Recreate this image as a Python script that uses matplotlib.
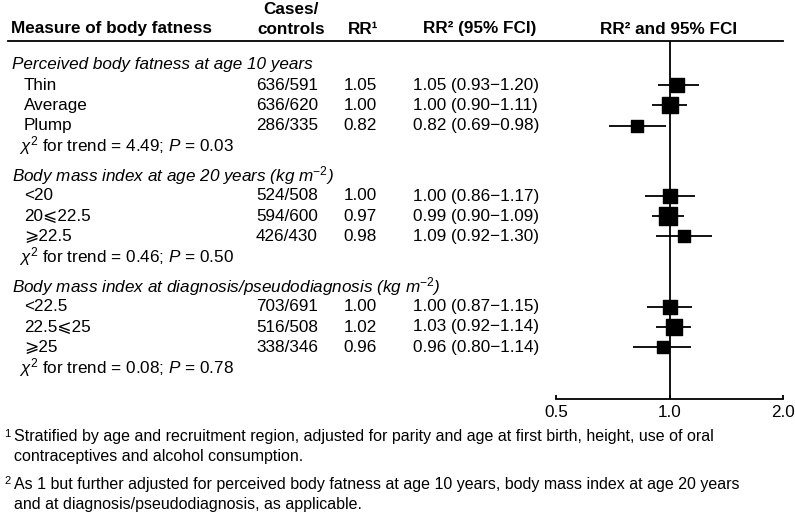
import numpy as np
import matplotlib
matplotlib.use("Agg")
import matplotlib.pyplot as plt
from matplotlib import transforms
from matplotlib.lines import Line2D

plt.rcParams['font.family'] = ['Liberation Sans', 'DejaVu Sans']
plt.rcParams['mathtext.fontset'] = 'custom'
plt.rcParams['mathtext.rm'] = 'Liberation Sans'
plt.rcParams['mathtext.it'] = 'Liberation Sans:italic'
plt.rcParams['mathtext.bf'] = 'Liberation Sans:bold'

# data
sections = ['Perceived body fatness at age 10 years',
            'Body mass index at age 20 years (kg m$^{-2}$)',
            'Body mass index at diagnosis/pseudodiagnosis (kg m$^{-2}$)']
categories = [['Thin', 'Average', 'Plump'],
              ['<20', '20\u2a7d22.5', '\u2a7e22.5'],
              ['<22.5', '22.5\u2a7d25', '\u2a7e25']]
cases = [['636/591', '636/620', '286/335'],
         ['524/508', '594/600', '426/430'],
         ['703/691', '516/508', '338/346']]
rr1 = [[1.05, 1.00, 0.82],
       [1.00, 0.97, 0.98],
       [1.00, 1.02, 0.96]]
rr2 = [[1.05, 1.00, 0.82],
       [1.00, 0.99, 1.09],
       [1.00, 1.03, 0.96]]
ci_lo = [[0.93, 0.90, 0.69],
         [0.86, 0.90, 0.92],
         [0.87, 0.92, 0.80]]
ci_hi = [[1.20, 1.11, 0.98],
         [1.17, 1.09, 1.30],
         [1.15, 1.14, 1.14]]
trend = [('4.49', '0.03'), ('0.46', '0.50'), ('0.08', '0.78')]

W, H = 795, 517
fig = plt.figure(figsize=(W / 100, H / 100), dpi=100)
fs = 12.3

def px(x):
    return x / W

# forest panel (y measured in pixels from top)
top, bot = 41, 399
ax = fig.add_axes([px(556), 1 - bot / H, px(227), (bot - top) / H])
ax.set_xscale('log')
ax.set_xlim(0.5, 2.0)
ax.set_ylim(bot, top)
for s in ['top', 'left', 'right']:
    ax.spines[s].set_visible(False)
ax.spines['bottom'].set_linewidth(1.3)
ax.set_yticks([])
ax.set_xticks([0.5, 1.0, 2.0])
ax.set_xticklabels(['0.5', '1.0', '2.0'])
ax.xaxis.set_minor_locator(matplotlib.ticker.NullLocator())
ax.tick_params(axis='x', direction='in', length=3, width=1.3, pad=4, labelsize=fs)
ax.axvline(1.0, color='black', lw=1.3)

tr = transforms.blended_transform_factory(fig.transFigure, ax.transData)

# header
fig.add_artist(Line2D([px(8), px(783)], [1 - top / H, 1 - top / H], color='black', lw=1.3))
hy = 29
ax.text(px(11), hy, 'Measure of body fatness', transform=tr, fontsize=fs, weight='bold', va='center')
ax.text(px(291), 10, 'Cases/', transform=tr, fontsize=fs, weight='bold', va='center', ha='center')
ax.text(px(291), hy, 'controls', transform=tr, fontsize=fs, weight='bold', va='center', ha='center')
ax.text(px(363), hy, 'RR\u00b9', transform=tr, fontsize=fs, weight='bold', va='center', ha='center')
ax.text(px(480), hy, 'RR\u00b2 (95% FCI)', transform=tr, fontsize=fs, weight='bold', va='center', ha='center')
ax.text(px(669), hy, 'RR\u00b2 and 95% FCI', transform=tr, fontsize=fs, weight='bold', va='center', ha='center')

step, gap, y0 = 20.2, 30, 65
for k, name in enumerate(sections):
    ys = y0 + k * (4 * step + gap)
    ax.text(px(12), ys, name, transform=tr, fontsize=fs, style='italic', va='center')
    for i in range(3):
        y = ys + (i + 1) * step
        ax.text(px(24), y, categories[k][i], transform=tr, fontsize=fs, va='center')
        ax.text(px(318), y, cases[k][i], transform=tr, fontsize=fs, va='center', ha='right')
        ax.text(px(377), y, '%.2f' % rr1[k][i], transform=tr, fontsize=fs, va='center', ha='right')
        ax.text(px(413), y, '%.2f (%.2f\u2212%.2f)' % (rr2[k][i], ci_lo[k][i], ci_hi[k][i]),
                transform=tr, fontsize=fs, va='center')
        ax.hlines(y, ci_lo[k][i], ci_hi[k][i], color='black', lw=1.3)
        side = 7 + 2 / np.log(ci_hi[k][i] / ci_lo[k][i])
        ax.scatter(rr2[k][i], y, marker='s', s=(side * 0.72) ** 2, color='black', zorder=3)
    ax.text(px(19), ys + 4 * step, r'$\chi^2$ for trend = %s; $P$ = %s' % trend[k],
            transform=tr, fontsize=fs, va='center')

# footnotes
fn = 11.5
fig.text(px(4), 1 - 434 / H, '1', fontsize=8, va='center')
fig.text(px(14), 1 - 437 / H, 'Stratified by age and recruitment region, adjusted for parity and age at first birth, height, use of oral',
         fontsize=fn, va='center')
fig.text(px(14), 1 - 457 / H, 'contraceptives and alcohol consumption.', fontsize=fn, va='center')
fig.text(px(4), 1 - 481 / H, '2', fontsize=8, va='center')
fig.text(px(14), 1 - 484 / H, 'As 1 but further adjusted for perceived body fatness at age 10 years, body mass index at age 20 years',
         fontsize=fn, va='center')
fig.text(px(14), 1 - 504 / H, 'and at diagnosis/pseudodiagnosis, as applicable.', fontsize=fn, va='center')

fig.savefig('out.png', dpi=100)
